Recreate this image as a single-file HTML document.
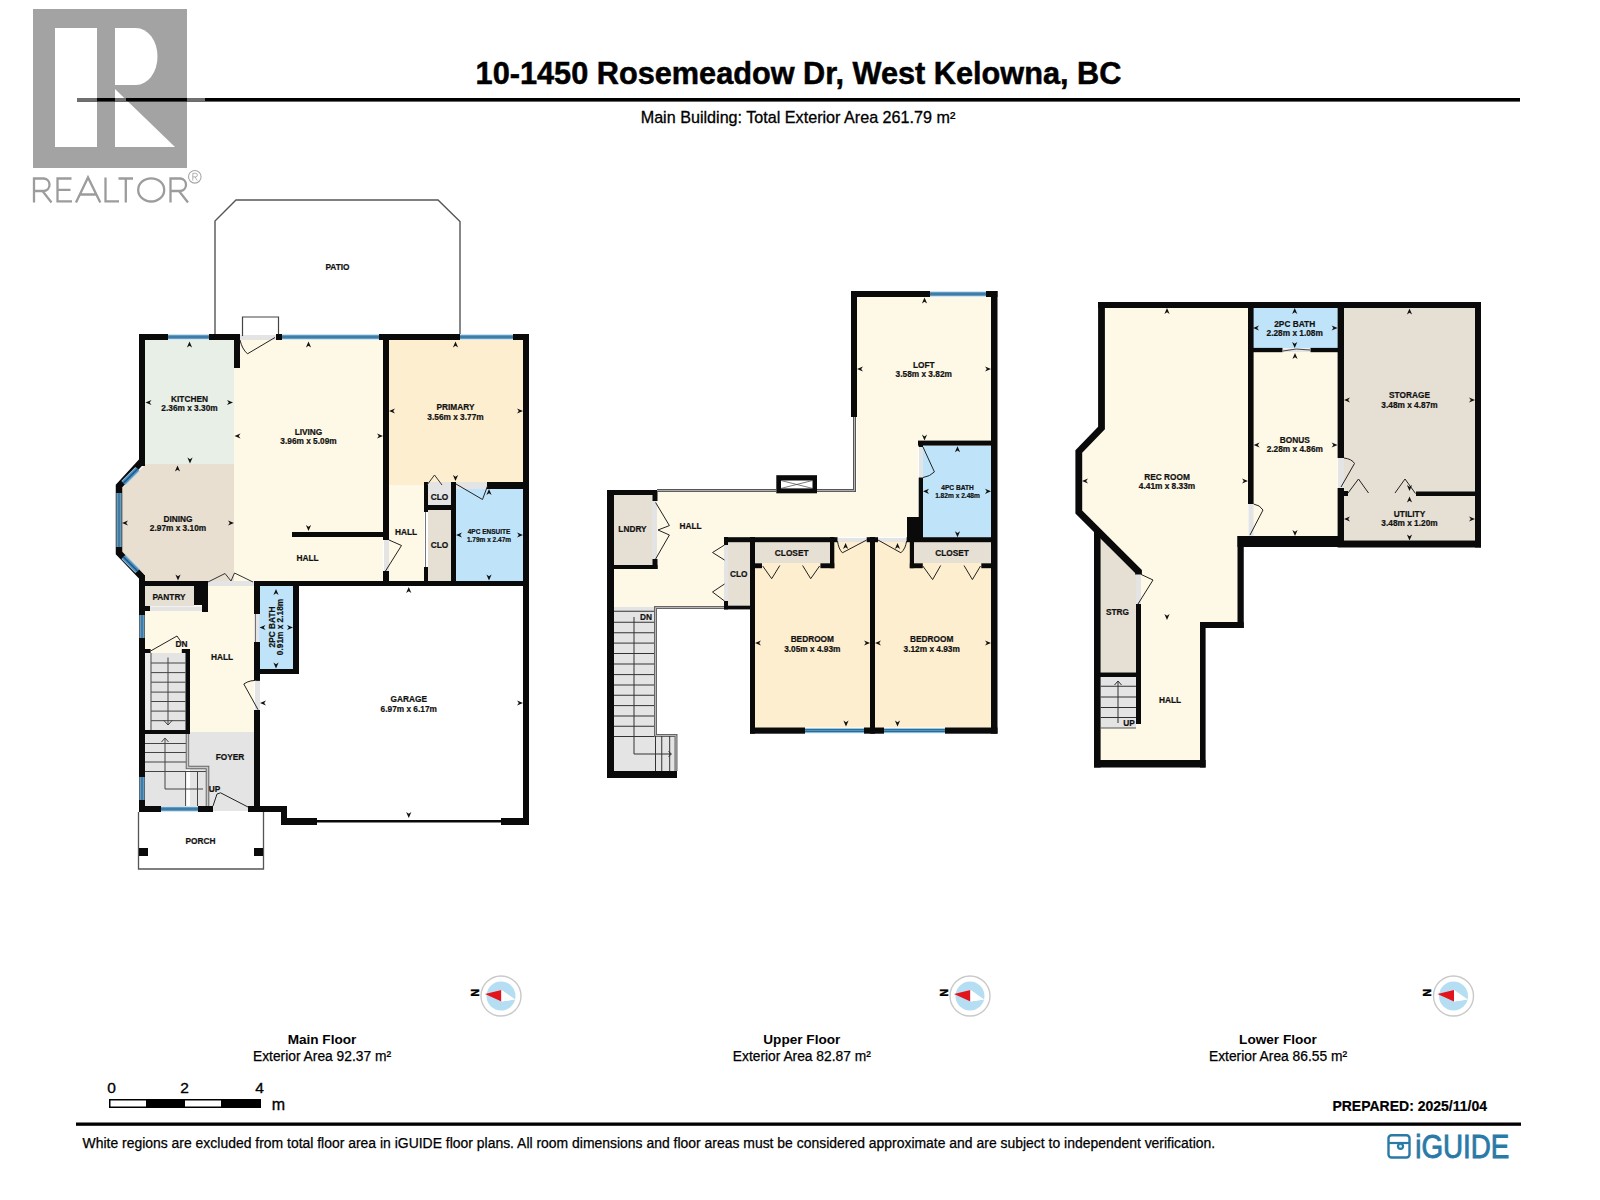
<!DOCTYPE html>
<html><head><meta charset="utf-8">
<style>
html,body{margin:0;padding:0;background:#fff;width:1600px;height:1200px;overflow:hidden}
svg{position:absolute;left:0;top:0;display:block}
text{font-family:"Liberation Sans",sans-serif}
.lb{font-weight:bold;font-size:8px;fill:#111;text-anchor:middle}
.w{fill:#0a0a0a}
.win{fill:#4f8fbf}
.winc{stroke:#1f5a86;stroke-width:1.4}
.cream{fill:#fef8e6}
.tan{fill:#fdeecf}
.mint{fill:#e7efe6}
.dine{fill:#e8dfd1}
.beige{fill:#e6e0d4}
.blue{fill:#bfe4f9}
.gray{fill:#e4e4e4}
.ln{stroke:#333;stroke-width:1;fill:none}
.thin{stroke:#555;stroke-width:1.3;fill:none}
</style></head>
<body>
<svg width="1600" height="1200" viewBox="0 0 1600 1200">
<!-- ===== HEADER ===== -->
<g id="realtor">
  <rect x="33" y="9" width="154" height="159" fill="#a3a3a3"/>
  <rect x="55" y="28" width="42" height="119" fill="#fff"/>
  <path d="M115 28 H136 A21.5 28.5 0 0 1 136 85 H115 Z" fill="#fff"/>
  <path d="M115 89 L175 147 H115 Z" fill="#fff"/>
  <g fill="none" stroke="#9c9c9c" stroke-width="2.3">
    <path d="M34 202.5 V178.5 H44 A6.3 6.3 0 0 1 44 191 H34 M42.5 191 L51.5 202.5"/>
    <path d="M71.5 178.5 H57.5 V201.3 H72 M57.5 189.8 H70.5"/>
    <path d="M76 202.5 L88 177.5 L100.3 202.5 M80.3 194.5 H96"/>
    <path d="M105.5 177.5 V201.3 H119"/>
    <path d="M118.5 178.5 H133 M125.8 178.5 V202.5"/>
    <ellipse cx="151.2" cy="189.9" rx="13" ry="11.6"/>
    <path d="M170.5 202.5 V178.5 H180.5 A6.3 6.3 0 0 1 180.5 191 H170.5 M179 191 L188 202.5"/>
  </g>
  <circle cx="194.8" cy="176.8" r="6.3" fill="none" stroke="#a8a8a8" stroke-width="1.1"/>
  <path d="M192.8 180.5 V173.3 H195.6 A1.8 1.8 0 0 1 195.6 176.9 H192.8 M195 176.9 L197.2 180.5" fill="none" stroke="#a8a8a8" stroke-width="0.9"/>
</g>
<rect x="77" y="98" width="1443" height="3.6" fill="#000"/>
<rect x="77" y="98" width="20" height="3.6" fill="#707070"/>
<rect x="115" y="98" width="11" height="3.6" fill="#707070"/>
<rect x="187" y="98" width="18" height="3.6" fill="#707070"/>
<text x="798.5" y="83.7" font-size="30.7" font-weight="bold" text-anchor="middle" fill="#000" stroke="#000" stroke-width="0.5">10-1450 Rosemeadow Dr, West Kelowna, BC</text>
<text x="798" y="122.5" font-size="16.15" text-anchor="middle" fill="#000" stroke="#000" stroke-width="0.3">Main Building: Total Exterior Area 261.79 m²</text>

<!-- MAIN FLOOR -->
<g id="main">
<polyline points="215,334 215,221 236,200 438,200 460,221.5 460,334" fill="none" stroke="#555" stroke-width="1.4" stroke-linejoin="miter"/>
<text x="337.5" y="269.97" font-size="8.3" font-weight="bold" text-anchor="middle" fill="#111" stroke="#111" stroke-width="0.2">PATIO</text>
<rect x="145" y="340" width="89" height="124" class="mint" />
<polygon points="145,464 234,464 234,581 145,581 145,575 122,552 122,488 145,465" class="dine"/>
<rect x="234" y="340" width="149" height="241" class="cream" />
<rect x="389" y="340" width="134" height="145" class="tan" />
<rect x="389" y="485" width="35" height="96" class="cream" />
<rect x="428" y="482" width="23" height="23" class="gray" />
<rect x="428" y="510" width="23" height="71" class="beige" />
<rect x="456" y="482" width="67" height="7" class="gray" />
<rect x="456" y="489" width="67" height="92" class="blue" />
<rect x="145" y="586" width="109" height="146" class="cream" />
<rect x="145" y="586" width="49" height="20" class="beige" />
<rect x="150" y="606" width="52" height="5" class="gray" />
<polyline points="150,606.5 204,606.5" fill="none" stroke="#f4f4f4" stroke-width="0.8" stroke-linejoin="miter"/>
<rect x="208" y="581" width="46" height="5" class="gray" />
<rect x="190" y="732" width="64" height="74" class="gray" />
<rect x="145" y="734" width="41" height="72" class="gray" />
<rect x="259" y="586" width="34" height="83" class="blue" />
<rect x="151" y="653" width="35" height="77" class="gray" />
<rect x="240" y="335" width="36" height="5" class="gray" />
<rect x="384" y="540" width="5" height="31" class="gray" />
<rect x="213" y="806" width="35" height="5" class="gray" />
<rect x="255" y="680" width="5" height="30" class="gray" />
<rect x="254" y="614" width="5" height="28" class="gray" />
<rect x="139" y="334" width="29" height="6" class="w" />
<rect x="168" y="334.5" width="41" height="5.0" fill="#9ccbe8"/>
<rect x="168" y="335.5" width="41" height="3.0" fill="#2c6a93"/>
<rect x="168" y="336.6" width="41" height="0.8" fill="#5d9cc9"/>
<rect x="209" y="334" width="31" height="6" class="w" />
<rect x="276" y="334" width="6" height="6" class="w" />
<rect x="282" y="334.5" width="97" height="5.0" fill="#9ccbe8"/>
<rect x="282" y="335.5" width="97" height="3.0" fill="#2c6a93"/>
<rect x="282" y="336.6" width="97" height="0.8" fill="#5d9cc9"/>
<rect x="379" y="334" width="81" height="6" class="w" />
<rect x="460" y="334.5" width="53" height="5.0" fill="#9ccbe8"/>
<rect x="460" y="335.5" width="53" height="3.0" fill="#2c6a93"/>
<rect x="460" y="336.6" width="53" height="0.8" fill="#5d9cc9"/>
<rect x="513" y="334" width="16" height="6" class="w" />
<rect x="139" y="334" width="6" height="132" class="w" />
<polyline points="142,461 119,486 119,553 142,577" fill="none" stroke="#0a0a0a" stroke-width="6.5" stroke-linejoin="miter" stroke-linecap="butt"/>
<line x1="137.5" y1="469" x2="123.5" y2="483" stroke="#8fc3e6" stroke-width="6"/>
<line x1="137.5" y1="469" x2="123.5" y2="483" stroke="#4d8dbc" stroke-width="4"/>
<line x1="137.5" y1="469" x2="123.5" y2="483" stroke="#1d557f" stroke-width="1.3"/>
<rect x="116.5" y="493" width="5.0" height="54" fill="#9ccbe8"/>
<rect x="117.5" y="493" width="3.0" height="54" fill="#2c6a93"/>
<rect x="118.6" y="493" width="0.8" height="54" fill="#5d9cc9"/>
<line x1="123.5" y1="557" x2="137.5" y2="571" stroke="#8fc3e6" stroke-width="6"/>
<line x1="123.5" y1="557" x2="137.5" y2="571" stroke="#4d8dbc" stroke-width="4"/>
<line x1="123.5" y1="557" x2="137.5" y2="571" stroke="#1d557f" stroke-width="1.3"/>
<rect x="139" y="575" width="6" height="237" class="w" />
<rect x="139.5" y="615" width="5.0" height="23" fill="#9ccbe8"/>
<rect x="140.5" y="615" width="3.0" height="23" fill="#2c6a93"/>
<rect x="141.6" y="615" width="0.8" height="23" fill="#5d9cc9"/>
<rect x="139.5" y="777" width="5.0" height="23" fill="#9ccbe8"/>
<rect x="140.5" y="777" width="3.0" height="23" fill="#2c6a93"/>
<rect x="141.6" y="777" width="0.8" height="23" fill="#5d9cc9"/>
<rect x="523" y="334" width="6" height="491" class="w" />
<rect x="139" y="806" width="22" height="6" class="w" />
<rect x="161" y="806.5" width="37" height="5.0" fill="#9ccbe8"/>
<rect x="161" y="807.5" width="37" height="3.0" fill="#2c6a93"/>
<rect x="161" y="808.6" width="37" height="0.8" fill="#5d9cc9"/>
<rect x="198" y="806" width="15" height="6" class="w" />
<rect x="248" y="806" width="39" height="6" class="w" />
<rect x="281" y="806" width="6" height="19" class="w" />
<rect x="281" y="818" width="36" height="7" class="w" />
<rect x="317" y="820" width="184" height="2.5" class="w" fill="#111"/>
<rect x="501" y="818" width="28" height="7" class="w" />
<rect x="234" y="340" width="6" height="28" class="w" />
<rect x="383" y="340" width="6" height="200" class="w" />
<rect x="383" y="571" width="6" height="10" class="w" />
<rect x="292" y="532" width="91" height="5" class="w" />
<rect x="139" y="581" width="69" height="5" class="w" />
<rect x="194" y="581" width="14" height="24" class="w" />
<rect x="202" y="605" width="6" height="7" class="w" />
<rect x="139" y="606" width="11" height="5" class="w" />
<rect x="254" y="581" width="275" height="5" class="w" />
<rect x="424" y="482" width="4" height="30" class="w" />
<rect x="424" y="567" width="4" height="14" class="w" />
<rect x="428" y="505" width="24" height="5" class="w" />
<rect x="451" y="482" width="5" height="99" class="w" />
<rect x="487" y="482" width="36" height="7" class="w" />
<rect x="254" y="581" width="6" height="33" class="w" />
<rect x="254" y="642" width="6" height="38" class="w" />
<rect x="254" y="710" width="6" height="102" class="w" />
<rect x="293" y="586" width="6" height="88" class="w" />
<rect x="254" y="669" width="45" height="5" class="w" />
<rect x="145" y="649" width="5.6" height="4" class="w" />
<rect x="181.8" y="649" width="8.2" height="4" class="w" />
<rect x="185.5" y="649" width="4.5" height="85" class="w" />
<rect x="145" y="730" width="45" height="4" class="w" />
<rect x="145" y="653" width="6" height="77" class="" fill="#ececec"/>
<polyline points="151,663 185.5,663" fill="none" stroke="#444" stroke-width="1" stroke-linejoin="miter"/>
<polyline points="151,672.6 185.5,672.6" fill="none" stroke="#444" stroke-width="1" stroke-linejoin="miter"/>
<polyline points="151,682.2 185.5,682.2" fill="none" stroke="#444" stroke-width="1" stroke-linejoin="miter"/>
<polyline points="151,692.1 185.5,692.1" fill="none" stroke="#444" stroke-width="1" stroke-linejoin="miter"/>
<polyline points="151,701.5 185.5,701.5" fill="none" stroke="#444" stroke-width="1" stroke-linejoin="miter"/>
<polyline points="151,711.1 185.5,711.1" fill="none" stroke="#444" stroke-width="1" stroke-linejoin="miter"/>
<polyline points="151,720.7 185.5,720.7" fill="none" stroke="#444" stroke-width="1" stroke-linejoin="miter"/>
<polyline points="151,653 151,730" fill="none" stroke="#555" stroke-width="1.1" stroke-linejoin="miter"/>
<polyline points="168,657.5 168,725" fill="none" stroke="#444" stroke-width="1" stroke-linejoin="miter"/>
<polyline points="163.5,720 168,725 172.5,720" fill="none" stroke="#444" stroke-width="1" stroke-linejoin="miter"/>
<polyline points="150.6,651 177,636 181.5,642.5" fill="none" stroke="#222" stroke-width="1" stroke-linejoin="miter"/>
<polyline points="145,743.5 186,743.5" fill="none" stroke="#444" stroke-width="1" stroke-linejoin="miter"/>
<polyline points="145,752.5 186,752.5" fill="none" stroke="#444" stroke-width="1" stroke-linejoin="miter"/>
<polyline points="145,762 186,762" fill="none" stroke="#444" stroke-width="1" stroke-linejoin="miter"/>
<polyline points="145,771.5 207,771.5" fill="none" stroke="#444" stroke-width="1" stroke-linejoin="miter"/>
<polyline points="187.5,734 187.5,767.5 207.5,767.5 207.5,806" fill="none" stroke="#666" stroke-width="3.6" stroke-linejoin="miter"/>
<polyline points="187.5,734 187.5,767.5 207.5,767.5 207.5,806" fill="none" stroke="#c8c8c8" stroke-width="1.6" stroke-linejoin="miter"/>
<polyline points="185.6,771.5 185.6,806" fill="none" stroke="#444" stroke-width="1" stroke-linejoin="miter"/>
<polyline points="197.5,772 197.5,806" fill="none" stroke="#444" stroke-width="1" stroke-linejoin="miter"/>
<polyline points="165,789 165,738" fill="none" stroke="#444" stroke-width="1" stroke-linejoin="miter"/>
<polyline points="165,789 203,789" fill="none" stroke="#444" stroke-width="1" stroke-linejoin="miter"/>
<polyline points="161.5,742 165,738 168.5,742" fill="none" stroke="#444" stroke-width="1" stroke-linejoin="miter"/>
<polyline points="242.5,336 242.5,317 278.5,317 278.5,334" fill="none" stroke="#444" stroke-width="1.2" stroke-linejoin="miter"/>
<polyline points="275,337.5 247.5,353.8" fill="none" stroke="#222" stroke-width="1" stroke-linejoin="miter"/>
<path d="M240 340 Q242 349 247.5 353.8" fill="none" stroke="#222" stroke-width="1"/>
<polyline points="208,582 225,573.5 231,581 234.5,573 253,582" fill="none" stroke="#333" stroke-width="1" stroke-linejoin="miter"/>
<polyline points="255.5,614 255.5,642" fill="none" stroke="#555" stroke-width="0.8" stroke-linejoin="miter"/>
<polyline points="258,709.7 243.8,684" fill="none" stroke="#222" stroke-width="1" stroke-linejoin="miter"/>
<path d="M243.8 684 Q250 679.5 260 680.6" fill="none" stroke="#222" stroke-width="1"/>
<polyline points="213,806 217,794 220.5,792.8 248,807" fill="none" stroke="#222" stroke-width="1" stroke-linejoin="miter"/>
<polyline points="389,540 401.5,545.5 385.5,571" fill="none" stroke="#222" stroke-width="1" stroke-linejoin="miter"/>
<polyline points="427,485 434.5,475 442,485" fill="none" stroke="#333" stroke-width="1" stroke-linejoin="miter"/>
<polyline points="425.5,512 425.5,567" fill="none" stroke="#555" stroke-width="0.8" stroke-linejoin="miter"/>
<polyline points="456,484 482.5,499.5 487.5,486" fill="none" stroke="#222" stroke-width="1" stroke-linejoin="miter"/>
<polyline points="138.5,812 138.5,869 263.5,869 263.5,812" fill="none" stroke="#555" stroke-width="1.3" stroke-linejoin="miter"/>
<rect x="139" y="848" width="9" height="8" class="w" />
<rect x="254" y="848" width="9" height="8" class="w" />
<text x="189.5" y="401.97" font-size="8.3" font-weight="bold" text-anchor="middle" fill="#111" stroke="#111" stroke-width="0.2">KITCHEN</text>
<text x="189.5" y="411.47" font-size="8.3" font-weight="bold" text-anchor="middle" fill="#111" stroke="#111" stroke-width="0.2">2.36m x 3.30m</text>
<text x="308.5" y="434.97" font-size="8.3" font-weight="bold" text-anchor="middle" fill="#111" stroke="#111" stroke-width="0.2">LIVING</text>
<text x="308.5" y="444.47" font-size="8.3" font-weight="bold" text-anchor="middle" fill="#111" stroke="#111" stroke-width="0.2">3.96m x 5.09m</text>
<text x="455.5" y="410.47" font-size="8.3" font-weight="bold" text-anchor="middle" fill="#111" stroke="#111" stroke-width="0.2">PRIMARY</text>
<text x="455.5" y="419.97" font-size="8.3" font-weight="bold" text-anchor="middle" fill="#111" stroke="#111" stroke-width="0.2">3.56m x 3.77m</text>
<text x="178" y="521.97" font-size="8.3" font-weight="bold" text-anchor="middle" fill="#111" stroke="#111" stroke-width="0.2">DINING</text>
<text x="178" y="531.47" font-size="8.3" font-weight="bold" text-anchor="middle" fill="#111" stroke="#111" stroke-width="0.2">2.97m x 3.10m</text>
<text x="406" y="535.47" font-size="8.3" font-weight="bold" text-anchor="middle" fill="#111" stroke="#111" stroke-width="0.2">HALL</text>
<text x="439.5" y="499.97" font-size="8.3" font-weight="bold" text-anchor="middle" fill="#111" stroke="#111" stroke-width="0.2">CLO</text>
<text x="439.5" y="548.47" font-size="8.3" font-weight="bold" text-anchor="middle" fill="#111" stroke="#111" stroke-width="0.2">CLO</text>
<text x="489" y="534.33" font-size="6.5" font-weight="bold" text-anchor="middle" fill="#111" stroke="#111" stroke-width="0.2">4PC ENSUITE</text>
<text x="489" y="541.63" font-size="6.5" font-weight="bold" text-anchor="middle" fill="#111" stroke="#111" stroke-width="0.2">1.79m x 2.47m</text>
<text x="307.5" y="560.97" font-size="8.3" font-weight="bold" text-anchor="middle" fill="#111" stroke="#111" stroke-width="0.2">HALL</text>
<text x="169" y="599.97" font-size="8.3" font-weight="bold" text-anchor="middle" fill="#111" stroke="#111" stroke-width="0.2">PANTRY</text>
<text x="272" y="629.97" font-size="8.3" font-weight="bold" text-anchor="middle" fill="#111" stroke="#111" stroke-width="0.2" transform="rotate(-90 272 627)">2PC BATH</text>
<text x="280" y="629.97" font-size="8.3" font-weight="bold" text-anchor="middle" fill="#111" stroke="#111" stroke-width="0.2" transform="rotate(-90 280 627)">0.91m x 2.18m</text>
<text x="181.5" y="646.97" font-size="8.3" font-weight="bold" text-anchor="middle" fill="#111" stroke="#111" stroke-width="0.2">DN</text>
<text x="222" y="659.97" font-size="8.3" font-weight="bold" text-anchor="middle" fill="#111" stroke="#111" stroke-width="0.2">HALL</text>
<text x="408.75" y="701.97" font-size="8.3" font-weight="bold" text-anchor="middle" fill="#111" stroke="#111" stroke-width="0.2">GARAGE</text>
<text x="408.75" y="711.97" font-size="8.3" font-weight="bold" text-anchor="middle" fill="#111" stroke="#111" stroke-width="0.2">6.97m x 6.17m</text>
<text x="230" y="759.97" font-size="8.3" font-weight="bold" text-anchor="middle" fill="#111" stroke="#111" stroke-width="0.2">FOYER</text>
<text x="214.5" y="791.97" font-size="8.3" font-weight="bold" text-anchor="middle" fill="#111" stroke="#111" stroke-width="0.2">UP</text>
<text x="200.5" y="843.97" font-size="8.3" font-weight="bold" text-anchor="middle" fill="#111" stroke="#111" stroke-width="0.2">PORCH</text>
<polygon points="189.5,341.5 186.9,347.5 189.5,345.7 192.1,347.5" fill="#111"/>
<polygon points="145.5,402.5 151.5,399.9 149.7,402.5 151.5,405.1" fill="#111"/>
<polygon points="233,402.5 227.0,399.9 228.8,402.5 227.0,405.1" fill="#111"/>
<polygon points="190,463.5 187.4,457.5 190,459.3 192.6,457.5" fill="#111"/>
<polygon points="177.5,465.5 174.9,471.5 177.5,469.7 180.1,471.5" fill="#111"/>
<polygon points="308.5,341.5 305.9,347.5 308.5,345.7 311.1,347.5" fill="#111"/>
<polygon points="234.5,436 240.5,433.4 238.7,436 240.5,438.6" fill="#111"/>
<polygon points="383,436 377.0,433.4 378.8,436 377.0,438.6" fill="#111"/>
<polygon points="308.5,531 305.9,525.0 308.5,526.8 311.1,525.0" fill="#111"/>
<polygon points="455.5,341.5 452.9,347.5 455.5,345.7 458.1,347.5" fill="#111"/>
<polygon points="389,411 395.0,408.4 393.2,411 395.0,413.6" fill="#111"/>
<polygon points="523,411 517.0,408.4 518.8,411 517.0,413.6" fill="#111"/>
<polygon points="455.5,481 452.9,475.0 455.5,476.8 458.1,475.0" fill="#111"/>
<polygon points="122,523 128.0,520.4 126.2,523 128.0,525.6" fill="#111"/>
<polygon points="234,523 228.0,520.4 229.8,523 228.0,525.6" fill="#111"/>
<polygon points="178,580.5 175.4,574.5 178,576.3 180.6,574.5" fill="#111"/>
<polygon points="456,535 462.0,532.4 460.2,535 462.0,537.6" fill="#111"/>
<polygon points="523,535 517.0,532.4 518.8,535 517.0,537.6" fill="#111"/>
<polygon points="489,489 486.4,495.0 489,493.2 491.6,495.0" fill="#111"/>
<polygon points="489,580.5 486.4,574.5 489,576.3 491.6,574.5" fill="#111"/>
<polygon points="276,589 273.4,595.0 276,593.2 278.6,595.0" fill="#111"/>
<polygon points="276,668.5 273.4,662.5 276,664.3 278.6,662.5" fill="#111"/>
<polygon points="259.5,627.5 265.5,624.9 263.7,627.5 265.5,630.1" fill="#111"/>
<polygon points="293,627.5 287.0,624.9 288.8,627.5 287.0,630.1" fill="#111"/>
<polygon points="408.75,587 406.15,593.0 408.75,591.2 411.35,593.0" fill="#111"/>
<polygon points="260,703 266.0,700.4 264.2,703 266.0,705.6" fill="#111"/>
<polygon points="523,703 517.0,700.4 518.8,703 517.0,705.6" fill="#111"/>
<polygon points="408.75,818 406.15,812.0 408.75,813.8 411.35,812.0" fill="#111"/>
</g>
<!-- UPPER FLOOR -->
<g id="upper">
<rect x="614" y="492" width="304" height="45" class="cream" />
<rect x="857" y="297" width="134" height="144" class="cream" />
<rect x="857" y="441" width="61" height="96" class="cream" />
<rect x="614" y="537" width="110" height="70" class="cream" />
<rect x="613" y="495" width="40" height="70" class="beige" />
<rect x="652" y="501" width="5" height="58" class="gray" />
<rect x="614" y="607" width="40" height="164" class="gray" />
<rect x="654" y="734" width="22" height="37" class="gray" />
<rect x="923" y="446" width="68" height="91" class="blue" />
<rect x="919" y="447" width="4" height="30.5" class="gray" />
<rect x="728" y="542" width="22" height="63" class="beige" />
<rect x="724" y="545" width="4" height="56" class="gray" />
<rect x="755" y="542" width="115" height="185.5" class="tan" />
<rect x="875" y="542" width="116" height="185.5" class="tan" />
<rect x="755" y="542" width="75" height="21" class="beige" />
<rect x="914" y="542" width="77" height="21" class="beige" />
<rect x="837.5" y="538" width="29.2" height="4" class="gray" />
<rect x="878" y="538" width="28.6" height="4" class="gray" />
<rect x="607" y="490" width="7" height="288" class="w" />
<rect x="607" y="490" width="50.5" height="5" class="w" />
<rect x="613" y="565" width="44.5" height="4" class="w" />
<rect x="652.5" y="495" width="5.0" height="6" class="w" />
<rect x="652.5" y="559" width="5.0" height="10" class="w" />
<polyline points="657,490.6 776,490.6" fill="none" stroke="#555" stroke-width="3" stroke-linejoin="miter"/>
<polyline points="657,490.6 776,490.6" fill="none" stroke="#b8b8b8" stroke-width="1" stroke-linejoin="miter"/>
<polyline points="817,490.6 854.5,490.6 854.5,417" fill="none" stroke="#555" stroke-width="3" stroke-linejoin="miter"/>
<polyline points="817,490.6 854.5,490.6 854.5,417" fill="none" stroke="#b8b8b8" stroke-width="1" stroke-linejoin="miter"/>
<rect x="776.3" y="475.2" width="40.7" height="18.1" class="w" />
<rect x="781" y="480.5" width="31.5" height="7.9" class="" fill="#fff"/>
<polyline points="781,480.5 812.5,488.4" fill="none" stroke="#444" stroke-width="0.7" stroke-linejoin="miter"/>
<polyline points="781,488.4 812.5,480.5" fill="none" stroke="#444" stroke-width="0.7" stroke-linejoin="miter"/>
<rect x="851" y="291" width="6" height="126" class="w" />
<rect x="851" y="291" width="79" height="6" class="w" />
<rect x="930" y="291.5" width="56" height="5.0" fill="#9ccbe8"/>
<rect x="930" y="292.5" width="56" height="3.0" fill="#2c6a93"/>
<rect x="930" y="293.6" width="56" height="0.8" fill="#5d9cc9"/>
<rect x="986" y="291" width="11.5" height="6" class="w" />
<rect x="991" y="291" width="6.5" height="442.7" class="w" />
<rect x="918" y="440.6" width="79" height="5.0" class="w" />
<rect x="918.7" y="441" width="4.3" height="6" class="w" />
<rect x="918.7" y="477.5" width="4.3" height="63.5" class="w" />
<rect x="907" y="517" width="16" height="24" class="w" />
<rect x="724" y="537.2" width="113.5" height="5.0" class="w" />
<rect x="866.7" y="537.2" width="11.3" height="5.0" class="w" />
<rect x="906.6" y="537.2" width="90.4" height="5.0" class="w" />
<rect x="724" y="537" width="4" height="8" class="w" />
<rect x="724" y="601" width="4" height="8.4" class="w" />
<rect x="750" y="537" width="5" height="196.7" class="w" />
<rect x="724" y="605.6" width="31" height="3.8" class="w" />
<rect x="830" y="537" width="4.3" height="31.2" class="w" />
<rect x="755" y="563.3" width="7" height="4.9" class="w" />
<rect x="820.4" y="563.3" width="13.9" height="4.9" class="w" />
<rect x="870" y="537" width="5" height="196.7" class="w" />
<rect x="909.8" y="537" width="4.2" height="31.2" class="w" />
<rect x="909.8" y="563.3" width="13.0" height="4.9" class="w" />
<rect x="981.3" y="563.3" width="9.7" height="4.9" class="w" />
<rect x="750" y="727.5" width="55" height="6.2" class="w" />
<rect x="805" y="728" width="59" height="5.2" fill="#9ccbe8"/>
<rect x="805" y="729.04" width="59" height="3.12" fill="#2c6a93"/>
<rect x="805" y="730.18" width="59" height="0.83" fill="#5d9cc9"/>
<rect x="864" y="727.5" width="20" height="6.2" class="w" />
<rect x="884" y="728" width="61" height="5.2" fill="#9ccbe8"/>
<rect x="884" y="729.04" width="61" height="3.12" fill="#2c6a93"/>
<rect x="884" y="730.18" width="61" height="0.83" fill="#5d9cc9"/>
<rect x="945" y="727.5" width="52.5" height="6.2" class="w" />
<rect x="607" y="771" width="70" height="7" class="w" />
<polyline points="724,607.5 655.5,607.5 655.5,735.5 676,735.5 676,771" fill="none" stroke="#666" stroke-width="3" stroke-linejoin="miter"/>
<polyline points="724,607.5 655.5,607.5 655.5,735.5 676,735.5 676,771" fill="none" stroke="#b8b8b8" stroke-width="1" stroke-linejoin="miter"/>
<polyline points="614,611.25 654,611.25" fill="none" stroke="#333" stroke-width="1" stroke-linejoin="miter"/>
<polyline points="614,622.25 654,622.25" fill="none" stroke="#333" stroke-width="1" stroke-linejoin="miter"/>
<polyline points="614,632.75 654,632.75" fill="none" stroke="#333" stroke-width="1" stroke-linejoin="miter"/>
<polyline points="614,643.1 654,643.1" fill="none" stroke="#333" stroke-width="1" stroke-linejoin="miter"/>
<polyline points="614,653.5 654,653.5" fill="none" stroke="#333" stroke-width="1" stroke-linejoin="miter"/>
<polyline points="614,664 654,664" fill="none" stroke="#333" stroke-width="1" stroke-linejoin="miter"/>
<polyline points="614,674.6 654,674.6" fill="none" stroke="#333" stroke-width="1" stroke-linejoin="miter"/>
<polyline points="614,685 654,685" fill="none" stroke="#333" stroke-width="1" stroke-linejoin="miter"/>
<polyline points="614,695.25 654,695.25" fill="none" stroke="#333" stroke-width="1" stroke-linejoin="miter"/>
<polyline points="614,705.6 654,705.6" fill="none" stroke="#333" stroke-width="1" stroke-linejoin="miter"/>
<polyline points="614,716 654,716" fill="none" stroke="#333" stroke-width="1" stroke-linejoin="miter"/>
<polyline points="614,726.25 654,726.25" fill="none" stroke="#333" stroke-width="1" stroke-linejoin="miter"/>
<polyline points="614,736.5 654,736.5" fill="none" stroke="#333" stroke-width="1" stroke-linejoin="miter"/>
<polyline points="634,617 634,754 671,754" fill="none" stroke="#333" stroke-width="1" stroke-linejoin="miter"/>
<polyline points="668.5,751.5 671.5,754 668.5,756.5" fill="none" stroke="#333" stroke-width="1" stroke-linejoin="miter"/>
<polyline points="655.5,736 655.5,771" fill="none" stroke="#333" stroke-width="1" stroke-linejoin="miter"/>
<polyline points="661.75,736 661.75,771" fill="none" stroke="#333" stroke-width="1" stroke-linejoin="miter"/>
<polyline points="669.7,736 669.7,771" fill="none" stroke="#333" stroke-width="1" stroke-linejoin="miter"/>
<polyline points="655.6,502.5 669.4,525.6 658,530 669.4,535 655.6,559" fill="none" stroke="#222" stroke-width="1" stroke-linejoin="miter"/>
<polyline points="724.5,545 712.5,552.5 724.5,560" fill="none" stroke="#222" stroke-width="1" stroke-linejoin="miter"/>
<polyline points="724.5,584 712.5,592 724.5,601" fill="none" stroke="#222" stroke-width="1" stroke-linejoin="miter"/>
<polyline points="762.7,566 771.7,578.7 779.8,565.5" fill="none" stroke="#222" stroke-width="1" stroke-linejoin="miter"/>
<polyline points="802.6,565.5 810.7,578.7 819.6,566" fill="none" stroke="#222" stroke-width="1" stroke-linejoin="miter"/>
<polyline points="922.8,566 932.6,579.6 940.7,565.5" fill="none" stroke="#222" stroke-width="1" stroke-linejoin="miter"/>
<polyline points="964,565.5 972.4,579.6 980.5,566" fill="none" stroke="#222" stroke-width="1" stroke-linejoin="miter"/>
<polyline points="866.7,540 842.4,552.8" fill="none" stroke="#222" stroke-width="1" stroke-linejoin="miter"/>
<path d="M837.5 541 Q838.5 549 842.4 552.8" fill="none" stroke="#222" stroke-width="1"/>
<polyline points="878,540 900.9,552.8" fill="none" stroke="#222" stroke-width="1" stroke-linejoin="miter"/>
<path d="M906.6 541 Q905.5 549 900.9 552.8" fill="none" stroke="#222" stroke-width="1"/>
<polyline points="923,447 934.4,471.9" fill="none" stroke="#222" stroke-width="1" stroke-linejoin="miter"/>
<path d="M934.4 471.9 Q930 476.5 923 477.5" fill="none" stroke="#222" stroke-width="1"/>
<text x="923.75" y="367.97" font-size="8.3" font-weight="bold" text-anchor="middle" fill="#111" stroke="#111" stroke-width="0.2">LOFT</text>
<text x="923.75" y="376.97" font-size="8.3" font-weight="bold" text-anchor="middle" fill="#111" stroke="#111" stroke-width="0.2">3.58m x 3.82m</text>
<text x="957.5" y="490.36" font-size="6.6" font-weight="bold" text-anchor="middle" fill="#111" stroke="#111" stroke-width="0.2">4PC BATH</text>
<text x="957.5" y="497.86" font-size="6.6" font-weight="bold" text-anchor="middle" fill="#111" stroke="#111" stroke-width="0.2">1.82m x 2.48m</text>
<text x="632.5" y="531.97" font-size="8.3" font-weight="bold" text-anchor="middle" fill="#111" stroke="#111" stroke-width="0.2">LNDRY</text>
<text x="690.6" y="528.97" font-size="8.3" font-weight="bold" text-anchor="middle" fill="#111" stroke="#111" stroke-width="0.2">HALL</text>
<text x="738.75" y="576.72" font-size="8.3" font-weight="bold" text-anchor="middle" fill="#111" stroke="#111" stroke-width="0.2">CLO</text>
<text x="791.7" y="555.72" font-size="8.3" font-weight="bold" text-anchor="middle" fill="#111" stroke="#111" stroke-width="0.2">CLOSET</text>
<text x="952" y="555.97" font-size="8.3" font-weight="bold" text-anchor="middle" fill="#111" stroke="#111" stroke-width="0.2">CLOSET</text>
<text x="812.3" y="641.97" font-size="8.3" font-weight="bold" text-anchor="middle" fill="#111" stroke="#111" stroke-width="0.2">BEDROOM</text>
<text x="812.3" y="651.57" font-size="8.3" font-weight="bold" text-anchor="middle" fill="#111" stroke="#111" stroke-width="0.2">3.05m x 4.93m</text>
<text x="931.7" y="641.97" font-size="8.3" font-weight="bold" text-anchor="middle" fill="#111" stroke="#111" stroke-width="0.2">BEDROOM</text>
<text x="931.7" y="651.57" font-size="8.3" font-weight="bold" text-anchor="middle" fill="#111" stroke="#111" stroke-width="0.2">3.12m x 4.93m</text>
<text x="646" y="619.97" font-size="8.3" font-weight="bold" text-anchor="middle" fill="#111" stroke="#111" stroke-width="0.2">DN</text>
<polygon points="924.5,297.5 921.9,303.5 924.5,301.7 927.1,303.5" fill="#111"/>
<polygon points="857,369 863.0,366.4 861.2,369 863.0,371.6" fill="#111"/>
<polygon points="991,369 985.0,366.4 986.8,369 985.0,371.6" fill="#111"/>
<polygon points="924.5,440.6 921.9,434.6 924.5,436.4 927.1,434.6" fill="#111"/>
<polygon points="957.5,446.3 954.9,452.3 957.5,450.5 960.1,452.3" fill="#111"/>
<polygon points="923,491.3 929.0,488.7 927.2,491.3 929.0,493.9" fill="#111"/>
<polygon points="991,491.3 985.0,488.7 986.8,491.3 985.0,493.9" fill="#111"/>
<polygon points="957.5,537.3 954.9,531.3 957.5,533.1 960.1,531.3" fill="#111"/>
<polygon points="755,643 761.0,640.4 759.2,643 761.0,645.6" fill="#111"/>
<polygon points="870,643 864.0,640.4 865.8,643 864.0,645.6" fill="#111"/>
<polygon points="846,726.5 843.4,720.5 846,722.3 848.6,720.5" fill="#111"/>
<polygon points="845.6,543 843.0,549.0 845.6,547.2 848.2,549.0" fill="#111"/>
<polygon points="875,643 881.0,640.4 879.2,643 881.0,645.6" fill="#111"/>
<polygon points="991,643 985.0,640.4 986.8,643 985.0,645.6" fill="#111"/>
<polygon points="897.5,726.5 894.9,720.5 897.5,722.3 900.1,720.5" fill="#111"/>
<polygon points="897.5,543 894.9,549.0 897.5,547.2 900.1,549.0" fill="#111"/>
</g>
<!-- LOWER FLOOR -->
<g id="lower">
<polygon points="1105,307.5 1248,307.5 1248,540 1240,540 1240,625 1203,625 1203,764 1097,764 1097,533 1079,511 1079,451 1105,427" class="cream"/>
<polygon points="1100.6,537 1136,572.5 1136,672.5 1100.6,672.5" class="beige"/>
<rect x="1136" y="574.5" width="5" height="29.5" class="gray" />
<rect x="1100.6" y="677" width="35.4" height="51" class="gray" />
<rect x="1253" y="308" width="84.6" height="40" class="blue" />
<rect x="1253.6" y="352" width="84.0" height="184" class="cream" />
<rect x="1248.5" y="504" width="5.1" height="32" class="gray" />
<rect x="1344" y="308" width="131" height="232.5" class="beige" />
<rect x="1338" y="458" width="6" height="30" class="gray" />
<rect x="1282.5" y="348.5" width="28.0" height="3.5" class="gray" />
<rect x="1098" y="302" width="383" height="6" class="w" />
<rect x="1475" y="302" width="6" height="245.5" class="w" />
<polyline points="1101.5,302 1101.5,428 1078.8,451.5 1078.8,512 1138.5,571.5 1138.5,574.4" fill="none" stroke="#0a0a0a" stroke-width="6.8" stroke-linejoin="miter" stroke-linecap="butt"/>
<rect x="1094" y="531" width="6.6" height="236.5" class="w" />
<rect x="1094" y="760" width="111.6" height="7.5" class="w" />
<rect x="1200" y="622" width="5.6" height="145.5" class="w" />
<rect x="1200" y="622" width="43.75" height="6" class="w" />
<rect x="1237.5" y="536" width="6.25" height="92" class="w" />
<rect x="1100" y="672.5" width="41" height="4.5" class="w" />
<rect x="1136" y="604" width="5" height="120" class="w" />
<rect x="1248" y="302" width="5.6" height="202" class="w" />
<rect x="1253" y="347.9" width="29.5" height="4.3" class="w" />
<rect x="1310.5" y="347.9" width="33.5" height="4.3" class="w" />
<rect x="1337.6" y="302" width="6.4" height="156" class="w" />
<rect x="1337.6" y="488" width="6.4" height="59.5" class="w" />
<rect x="1344" y="491" width="4" height="5" class="w" />
<rect x="1416" y="491.5" width="65" height="4.5" class="w" />
<rect x="1237.5" y="536" width="106.5" height="11" class="w" />
<rect x="1344" y="540.5" width="137" height="7.0" class="w" />
<polyline points="1100.6,686.25 1136,686.25" fill="none" stroke="#333" stroke-width="1" stroke-linejoin="miter"/>
<polyline points="1100.6,697 1136,697" fill="none" stroke="#333" stroke-width="1" stroke-linejoin="miter"/>
<polyline points="1100.6,707.5 1136,707.5" fill="none" stroke="#333" stroke-width="1" stroke-linejoin="miter"/>
<polyline points="1100.6,717.5 1136,717.5" fill="none" stroke="#333" stroke-width="1" stroke-linejoin="miter"/>
<polyline points="1100.6,728 1136,728" fill="none" stroke="#555" stroke-width="1" stroke-linejoin="miter"/>
<polyline points="1118,723 1118,681" fill="none" stroke="#333" stroke-width="1" stroke-linejoin="miter"/>
<polyline points="1114.5,685 1118,681 1121.5,685" fill="none" stroke="#333" stroke-width="1" stroke-linejoin="miter"/>
<polyline points="1141,574.4 1153,580 1138,604" fill="none" stroke="#222" stroke-width="1" stroke-linejoin="miter"/>
<polyline points="1250,535 1263,510" fill="none" stroke="#222" stroke-width="1" stroke-linejoin="miter"/>
<path d="M1263 510 Q1260 505 1253.6 504" fill="none" stroke="#222" stroke-width="1"/>
<polyline points="1341,487 1354.5,463.5" fill="none" stroke="#222" stroke-width="1" stroke-linejoin="miter"/>
<path d="M1354.5 463.5 Q1352 459 1344 458" fill="none" stroke="#222" stroke-width="1"/>
<polyline points="1348,493 1358.5,479 1368.5,493" fill="none" stroke="#222" stroke-width="1" stroke-linejoin="miter"/>
<polyline points="1395,493 1405,479 1415.5,493.5" fill="none" stroke="#222" stroke-width="1" stroke-linejoin="miter"/>
<path d="M1283 351 Q1296 347.5 1310 350" fill="none" stroke="#444" stroke-width="1"/>
<text x="1167" y="479.97" font-size="8.3" font-weight="bold" text-anchor="middle" fill="#111" stroke="#111" stroke-width="0.2">REC ROOM</text>
<text x="1167" y="489.27" font-size="8.3" font-weight="bold" text-anchor="middle" fill="#111" stroke="#111" stroke-width="0.2">4.41m x 8.33m</text>
<text x="1294.7" y="326.57" font-size="8.3" font-weight="bold" text-anchor="middle" fill="#111" stroke="#111" stroke-width="0.2">2PC BATH</text>
<text x="1294.7" y="335.97" font-size="8.3" font-weight="bold" text-anchor="middle" fill="#111" stroke="#111" stroke-width="0.2">2.28m x 1.08m</text>
<text x="1409.5" y="398.47" font-size="8.3" font-weight="bold" text-anchor="middle" fill="#111" stroke="#111" stroke-width="0.2">STORAGE</text>
<text x="1409.5" y="407.77" font-size="8.3" font-weight="bold" text-anchor="middle" fill="#111" stroke="#111" stroke-width="0.2">3.48m x 4.87m</text>
<text x="1294.8" y="443.27" font-size="8.3" font-weight="bold" text-anchor="middle" fill="#111" stroke="#111" stroke-width="0.2">BONUS</text>
<text x="1294.8" y="452.07" font-size="8.3" font-weight="bold" text-anchor="middle" fill="#111" stroke="#111" stroke-width="0.2">2.28m x 4.86m</text>
<text x="1409.5" y="517.47" font-size="8.3" font-weight="bold" text-anchor="middle" fill="#111" stroke="#111" stroke-width="0.2">UTILITY</text>
<text x="1409.5" y="526.47" font-size="8.3" font-weight="bold" text-anchor="middle" fill="#111" stroke="#111" stroke-width="0.2">3.48m x 1.20m</text>
<text x="1117.5" y="615.47" font-size="8.3" font-weight="bold" text-anchor="middle" fill="#111" stroke="#111" stroke-width="0.2">STRG</text>
<text x="1170" y="702.97" font-size="8.3" font-weight="bold" text-anchor="middle" fill="#111" stroke="#111" stroke-width="0.2">HALL</text>
<text x="1129" y="725.97" font-size="8.3" font-weight="bold" text-anchor="middle" fill="#111" stroke="#111" stroke-width="0.2">UP</text>
<polygon points="1167,308 1164.4,314.0 1167,312.2 1169.6,314.0" fill="#111"/>
<polygon points="1082,481 1088.0,478.4 1086.2,481 1088.0,483.6" fill="#111"/>
<polygon points="1248,481 1242.0,478.4 1243.8,481 1242.0,483.6" fill="#111"/>
<polygon points="1167,620 1164.4,614.0 1167,615.8 1169.6,614.0" fill="#111"/>
<polygon points="1294.7,308 1292.1,314.0 1294.7,312.2 1297.3,314.0" fill="#111"/>
<polygon points="1253,328 1259.0,325.4 1257.2,328 1259.0,330.6" fill="#111"/>
<polygon points="1337.6,328 1331.6,325.4 1333.4,328 1331.6,330.6" fill="#111"/>
<polygon points="1294.7,348 1292.1,342.0 1294.7,343.8 1297.3,342.0" fill="#111"/>
<polygon points="1409.5,308.5 1406.9,314.5 1409.5,312.7 1412.1,314.5" fill="#111"/>
<polygon points="1344,400 1350.0,397.4 1348.2,400 1350.0,402.6" fill="#111"/>
<polygon points="1475,400 1469.0,397.4 1470.8,400 1469.0,402.6" fill="#111"/>
<polygon points="1409.5,491 1406.9,485.0 1409.5,486.8 1412.1,485.0" fill="#111"/>
<polygon points="1295,353 1292.4,359.0 1295,357.2 1297.6,359.0" fill="#111"/>
<polygon points="1295,536 1292.4,530.0 1295,531.8 1297.6,530.0" fill="#111"/>
<polygon points="1253.6,445 1259.6,442.4 1257.8,445 1259.6,447.6" fill="#111"/>
<polygon points="1337.6,445 1331.6,442.4 1333.4,445 1331.6,447.6" fill="#111"/>
<polygon points="1344,519 1350.0,516.4 1348.2,519 1350.0,521.6" fill="#111"/>
<polygon points="1475,519 1469.0,516.4 1470.8,519 1469.0,521.6" fill="#111"/>
<polygon points="1409.5,496.5 1406.9,502.5 1409.5,500.7 1412.1,502.5" fill="#111"/>
<polygon points="1409.5,540.5 1406.9,534.5 1409.5,536.3 1412.1,534.5" fill="#111"/>
</g>

<!-- ===== FOOTER ===== -->
<g id="footer">
<circle cx="501" cy="996" r="20" fill="#fff" stroke="#c9c9c9" stroke-width="1.4"/>
<circle cx="501" cy="996" r="14.5" fill="#b5def3"/>
<polygon points="485,994 501.5,990 501.5,1001.5" fill="#e3141b"/>
<polygon points="501.5,990 515,999.5 501.5,1001.5" fill="#fff"/>
<polygon points="501.5,990 515,999.5 501.5,1001.5" fill="#fff"/>
<text x="474.5" y="992.8" font-size="10.5" font-weight="bold" fill="#000" stroke="#000" stroke-width="0.4" text-anchor="middle" transform="rotate(90 474.5 992.8)" dominant-baseline="central">N</text>
<circle cx="970" cy="996" r="20" fill="#fff" stroke="#c9c9c9" stroke-width="1.4"/>
<circle cx="970" cy="996" r="14.5" fill="#b5def3"/>
<polygon points="954,994 970.5,990 970.5,1001.5" fill="#e3141b"/>
<polygon points="970.5,990 984,999.5 970.5,1001.5" fill="#fff"/>
<polygon points="970.5,990 984,999.5 970.5,1001.5" fill="#fff"/>
<text x="943.5" y="992.8" font-size="10.5" font-weight="bold" fill="#000" stroke="#000" stroke-width="0.4" text-anchor="middle" transform="rotate(90 943.5 992.8)" dominant-baseline="central">N</text>
<circle cx="1453.5" cy="996" r="20" fill="#fff" stroke="#c9c9c9" stroke-width="1.4"/>
<circle cx="1453.5" cy="996" r="14.5" fill="#b5def3"/>
<polygon points="1437.5,994 1454.0,990 1454.0,1001.5" fill="#e3141b"/>
<polygon points="1454.0,990 1467.5,999.5 1454.0,1001.5" fill="#fff"/>
<polygon points="1454.0,990 1467.5,999.5 1454.0,1001.5" fill="#fff"/>
<text x="1427.0" y="992.8" font-size="10.5" font-weight="bold" fill="#000" stroke="#000" stroke-width="0.4" text-anchor="middle" transform="rotate(90 1427.0 992.8)" dominant-baseline="central">N</text>
<text x="322" y="1043.75" font-size="13.6" font-weight="bold" text-anchor="middle" fill="#000">Main Floor</text>
<text x="322" y="1060.6" font-size="13.8" text-anchor="middle" fill="#000" stroke="#000" stroke-width="0.25">Exterior Area 92.37 m²</text>
<text x="801.8" y="1043.75" font-size="13.6" font-weight="bold" text-anchor="middle" fill="#000">Upper Floor</text>
<text x="801.8" y="1060.6" font-size="13.8" text-anchor="middle" fill="#000" stroke="#000" stroke-width="0.25">Exterior Area 82.87 m²</text>
<text x="1278" y="1043.75" font-size="13.6" font-weight="bold" text-anchor="middle" fill="#000">Lower Floor</text>
<text x="1278" y="1060.6" font-size="13.8" text-anchor="middle" fill="#000" stroke="#000" stroke-width="0.25">Exterior Area 86.55 m²</text>
<rect x="109" y="1099" width="152" height="9" fill="#000"/>
<rect x="110.5" y="1100.5" width="35.5" height="6" fill="#fff"/>
<rect x="185" y="1100.5" width="36" height="6" fill="#fff"/>
<text x="111.5" y="1092.5" font-size="15.5" text-anchor="middle" fill="#000" stroke="#000" stroke-width="0.35">0</text>
<text x="184.5" y="1092.5" font-size="15.5" text-anchor="middle" fill="#000" stroke="#000" stroke-width="0.35">2</text>
<text x="259.5" y="1092.5" font-size="15.5" text-anchor="middle" fill="#000" stroke="#000" stroke-width="0.35">4</text>
<text x="278.5" y="1109.5" font-size="16" text-anchor="middle" fill="#000" stroke="#000" stroke-width="0.35">m</text>
<rect x="76" y="1122.5" width="1445" height="3.3" fill="#000"/>
<text x="82.5" y="1147.5" font-size="13.95" fill="#000" stroke="#000" stroke-width="0.25">White regions are excluded from total floor area in iGUIDE floor plans. All room dimensions and floor areas must be considered approximate and are subject to independent verification.</text>
<text x="1487" y="1111" font-size="14" font-weight="bold" text-anchor="end" fill="#000" stroke="#000" stroke-width="0.2">PREPARED: 2025/11/04</text>
<rect x="1388.5" y="1135.2" width="21" height="22.3" rx="3" fill="none" stroke="#2a7aa8" stroke-width="2.4"/>
<path d="M1388.5 1143 H1410" fill="none" stroke="#2a7aa8" stroke-width="2.2"/>
<circle cx="1400.5" cy="1146.3" r="3.6" fill="#2a7aa8"/>
<circle cx="1400.5" cy="1146.3" r="1.5" fill="#c5ebf7"/>
<text x="1415.3" y="1158.3" font-size="33" fill="#2a7aa8" stroke="#2a7aa8" stroke-width="0.9" textLength="94" lengthAdjust="spacingAndGlyphs">iGUIDE</text>
</g>
</svg>
</body></html>
